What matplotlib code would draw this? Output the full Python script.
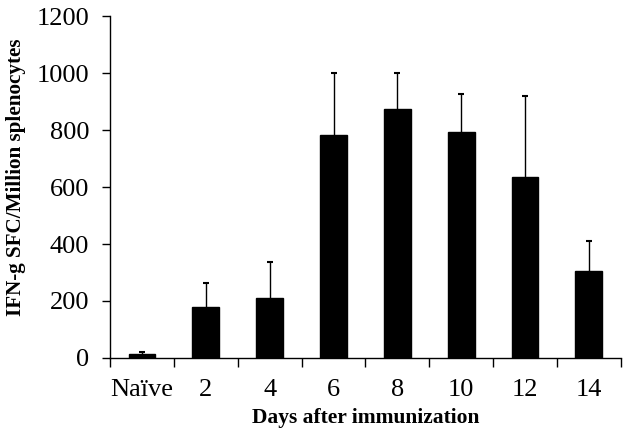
import matplotlib
matplotlib.use('Agg')
import matplotlib.pyplot as plt
import numpy as np

# 数据：各时间点的 IFN-g 斑点数及误差
categories = ['Naïve', '2', '4', '6', '8', '10', '12', '14']
means = [14, 180, 211, 784, 875, 792, 637, 306]
errors = [6, 82, 125, 215, 124, 135, 281, 103]

plt.rcParams['font.family'] = ['Liberation Serif', 'DejaVu Serif']

fig = plt.figure(figsize=(6.29, 4.36), dpi=100)
ax = fig.add_axes([0.175, 0.179, 0.812, 0.784])

x = np.arange(len(categories))
ax.bar(x, means, width=0.42, color='black', edgecolor='black')
eb = ax.errorbar(x, means, yerr=[np.zeros(len(errors)), errors], fmt='none',
                 ecolor='black', elinewidth=1, capsize=2.5, capthick=1.5)
# 只保留上方的横线
eb[1][0].set_visible(False)

ax.set_xlim(-0.5, len(categories) - 0.5)
ax.set_ylim(0, 1200)
ax.set_yticks(np.arange(0, 1201, 200))
ax.set_xticks(x)
ax.set_xticklabels(categories)
ax.set_xticks(np.arange(-0.5, len(categories), 1), minor=True)
ax.tick_params(axis='x', which='major', length=0, pad=15, labelsize=19)
ax.tick_params(axis='x', which='minor', length=6.5, width=1, direction='out')
ax.tick_params(axis='y', length=6, width=1, labelsize=19, pad=9)

for side in ['top', 'right']:
    ax.spines[side].set_visible(False)
for side in ['left', 'bottom']:
    ax.spines[side].set_linewidth(1)

ax.set_ylabel('IFN-g SFC/Million splenocytes', fontsize=15.2, fontweight='bold')
ax.yaxis.set_label_coords(-0.164, 0.529)
ax.set_xlabel('Days after immunization', fontsize=15.5, fontweight='bold', labelpad=5)

plt.savefig('out.png', dpi=100)
plt.close(fig)
